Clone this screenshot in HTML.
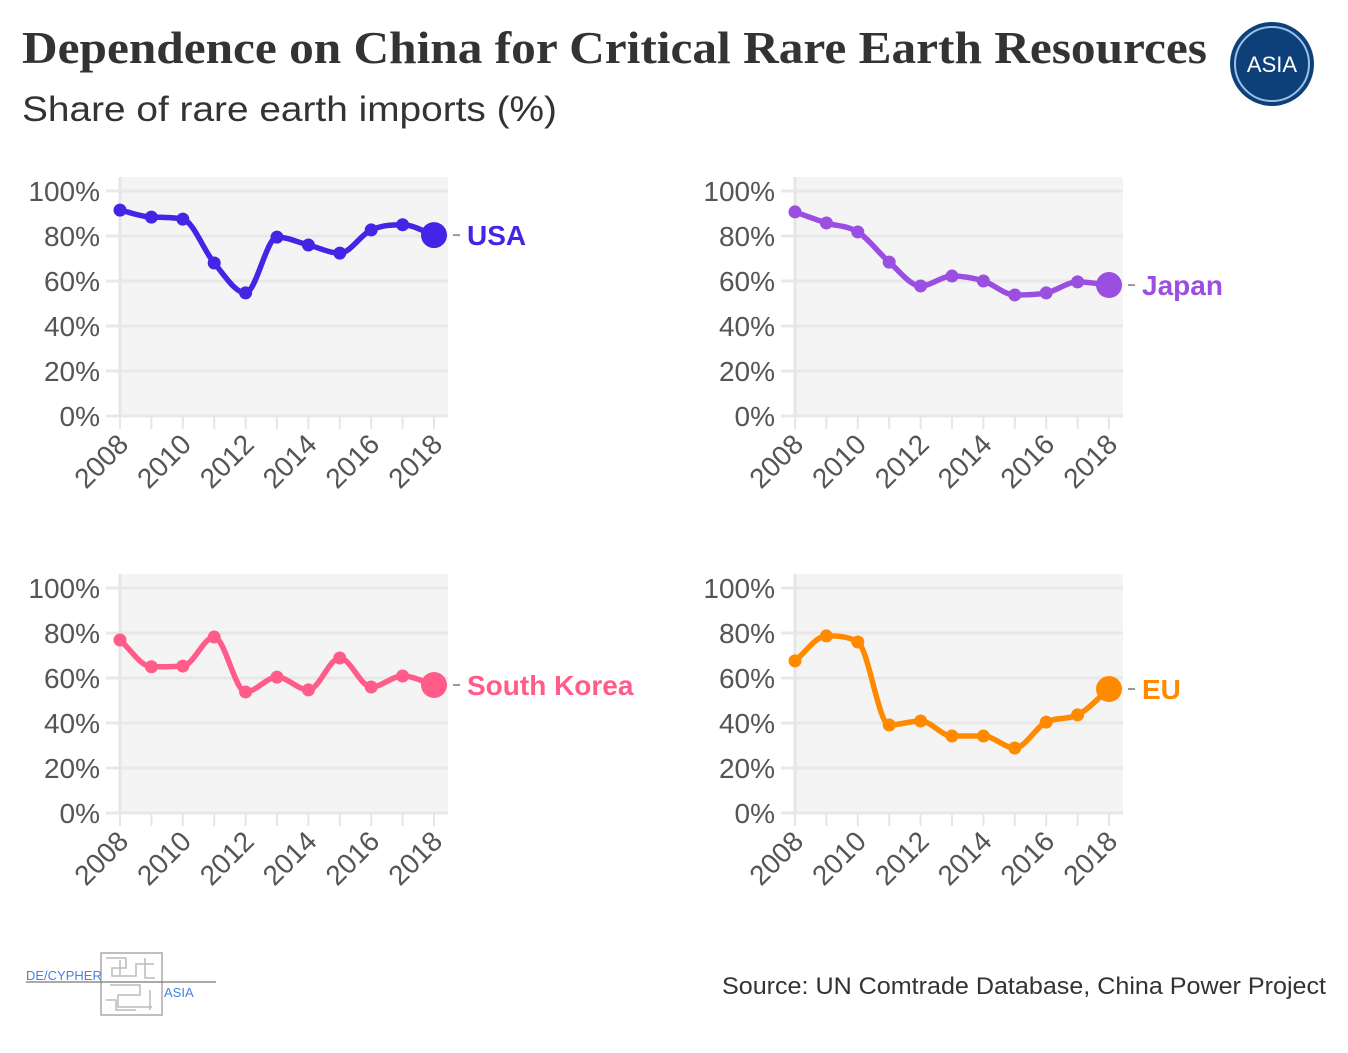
<!DOCTYPE html>
<html><head><meta charset="utf-8"><style>
body{margin:0;background:#fff;width:1348px;height:1048px;overflow:hidden;font-family:"Liberation Sans",sans-serif}
</style></head><body>
<svg id="chart" width="1348" height="1048" viewBox="0 0 1348 1048">
<text x="22" y="63" font-family="Liberation Serif,serif" font-weight="bold" font-size="45" fill="#333" textLength="1185" lengthAdjust="spacingAndGlyphs">Dependence on China for Critical Rare Earth Resources</text>
<text x="22" y="121" font-size="35" fill="#333" textLength="535" lengthAdjust="spacingAndGlyphs">Share of rare earth imports (%)</text>
<g>
<circle cx="1272" cy="64" r="42" fill="#0d3f78"/>
<circle cx="1272" cy="64" r="37" fill="none" stroke="#9cc1e6" stroke-width="2"/>
<text x="1272" y="72" text-anchor="middle" font-size="22" fill="#fff">ASIA</text>
</g>
<g id="panels"></g>
<g>
<rect x="101" y="953" width="61" height="62" fill="#fff" stroke="#aaa" stroke-width="1.5"/>
<path d="M106 958h20v10h-14v8h24v-12h18M110 985h30v10h-22v12h34M120 960v15M145 958v20h10M106 1000h10v10h20M150 990v20" fill="none" stroke="#bbb" stroke-width="1.5"/>
<line x1="26" y1="982" x2="216" y2="982" stroke="#777" stroke-width="1.2"/>
<text x="26" y="980" font-size="13" fill="#4a7fe0">DE/CYPHER</text>
<text x="164" y="997" font-size="13" fill="#4a7fe0">ASIA</text>
</g>
<text x="1326" y="994" text-anchor="end" font-size="24" fill="#333" textLength="604" lengthAdjust="spacingAndGlyphs">Source: UN Comtrade Database, China Power Project</text>
</svg>
<script>
const years = [2008,2009,2010,2011,2012,2013,2014,2015,2016,2017,2018];
const yTicks = [0,20,40,60,80,100];
const xTickYears = [2008,2010,2012,2014,2016,2018];
const usaValues = [91.5,88.4,87.5,68,54.7,79.5,76,72.4,82.7,85,80.4];
const japanValues = [90.7,85.8,81.8,68.4,57.8,62.2,60,53.8,54.7,59.6,58.2];
const koreaValues = [76.9,65,65.3,78.2,53.8,60.4,54.7,68.9,56,60.9,56.9];
const euValues = [67.6,78.7,76,39.1,40.9,34.2,34.2,28.9,40.4,43.6,55.1];
const seriesNames = ["USA","Japan","South Korea","EU"];
const NS="http://www.w3.org/2000/svg";
const root=document.getElementById('panels');
function mk(tag,attrs,parent){const e=document.createElementNS(NS,tag);for(const k in attrs)e.setAttribute(k,attrs[k]);parent.appendChild(e);return e;}
const panels=[
 {vals:usaValues,name:seriesNames[0],color:"#4326e5",x0:120,y0:416,slug:"usa"},
 {vals:japanValues,name:seriesNames[1],color:"#9a4fe0",x0:795,y0:416,slug:"japan"},
 {vals:koreaValues,name:seriesNames[2],color:"#ff5c8a",x0:120,y0:813,slug:"south-korea"},
 {vals:euValues,name:seriesNames[3],color:"#ff8a00",x0:795,y0:813,slug:"eu"}];
panels.forEach(p=>{
 const W=314,H=225;
 const xs=y=>p.x0+(y-2008)/10*W;
 const ys=v=>p.y0-v/100*H;
 const g=mk('g',{},root);
 
 
 const bg=mk('rect',{x:p.x0,y:p.y0-239,width:328,height:239,fill:"#f4f4f4"},g);
 
 
 yTicks.forEach(t=>{
  mk('line',{x1:p.x0-14,x2:p.x0+328,y1:ys(t),y2:ys(t),stroke:"#e8e8e8","stroke-width":3},g);
  const tx=mk('text',{x:p.x0-20,y:ys(t)+10,"text-anchor":"end","font-size":28,fill:"#555"},g);
  tx.textContent=t+"%";
  
  
 });
 mk('line',{x1:p.x0,x2:p.x0,y1:p.y0-239,y2:p.y0,stroke:"#e6e6e6","stroke-width":3},g);
 years.forEach(y=>mk('line',{x1:xs(y),x2:xs(y),y1:p.y0,y2:p.y0+13,stroke:"#e6e6e6","stroke-width":2},g));
 xTickYears.forEach(y=>{
  const tx=mk('text',{x:xs(y)+10,y:p.y0+30,"text-anchor":"end","font-size":28,fill:"#555",transform:`rotate(-45 ${xs(y)+10} ${p.y0+30})`},g);
  tx.textContent=y;
  
  
 });
 const pts=p.vals.map((v,i)=>[xs(years[i]),ys(v)]);
 const n=pts.length, dl=[], m=[];
 for(let i=0;i<n-1;i++)dl.push((pts[i+1][1]-pts[i][1])/(pts[i+1][0]-pts[i][0]));
 for(let i=0;i<n;i++){
  if(i==0)m.push(dl[0]);else if(i==n-1)m.push(dl[n-2]);
  else m.push(dl[i-1]*dl[i]<=0?0:(dl[i-1]+dl[i])/2);
 }
 for(let i=0;i<n-1;i++){
  if(dl[i]==0){m[i]=0;m[i+1]=0;continue;}
  const a=m[i]/dl[i],b=m[i+1]/dl[i],s=a*a+b*b;
  if(s>9){const t=3/Math.sqrt(s);m[i]=t*a*dl[i];m[i+1]=t*b*dl[i];}
 }
 let d=`M${pts[0][0]},${pts[0][1]}`;
 for(let i=0;i<n-1;i++){
  const h=(pts[i+1][0]-pts[i][0])/3;
  d+=` C${pts[i][0]+h},${pts[i][1]+m[i]*h} ${pts[i+1][0]-h},${pts[i+1][1]-m[i+1]*h} ${pts[i+1][0]},${pts[i+1][1]}`;
 }
 const line=mk('path',{d:d,fill:"none",stroke:p.color,"stroke-width":5.5,"stroke-linejoin":"round"},g);
 
 
 pts.forEach((pt,i)=>{
  const c=mk('circle',{cx:pt[0],cy:pt[1],r:i==n-1?13:6.5,fill:p.color},g);
  
  
 });
 const last=pts[n-1];
 mk('line',{x1:last[0]+19,x2:last[0]+26,y1:last[1],y2:last[1],stroke:"#999","stroke-width":2},g);
 const lb=mk('text',{x:last[0]+33,y:last[1]+10,"font-size":28,"font-weight":"bold",fill:p.color},g);
 lb.textContent=p.name;
 
 
});
</script>
</body></html>
